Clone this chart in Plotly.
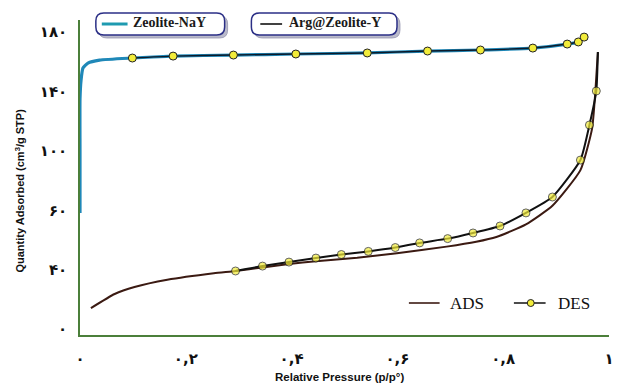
import plotly.graph_objects as go

# ---------------- data ----------------
# Zeolite-NaY (top curve) adsorption branch
nay_ads_x = [0.0, 0.0, 0.0, 0.002, 0.0056, 0.015, 0.037, 0.099, 0.176, 0.290, 0.408,
             0.543, 0.657, 0.757, 0.856, 0.921, 0.942, 0.953]
nay_ads_y = [58.1, 100.5, 135.0, 147.7, 155.8, 159.1, 161.1, 162.5, 163.8, 164.5, 165.2,
             165.9, 167.2, 167.9, 169.2, 171.9, 173.3, 176.6]
# Zeolite-NaY desorption branch (markers)
nay_des_x = [0.099, 0.176, 0.290, 0.408, 0.543, 0.657, 0.757, 0.856, 0.921, 0.942, 0.953]
nay_des_y = [162.5, 163.8, 164.5, 165.2, 165.9, 167.2, 167.9, 169.2, 171.9, 173.3, 176.6]

# Arg@Zeolite-Y (bottom curve) adsorption branch
arg_ads_x = [0.0206, 0.0655, 0.103, 0.165, 0.253, 0.294, 0.345, 0.395, 0.446, 0.524,
             0.599, 0.693, 0.749, 0.787, 0.843, 0.893, 0.946, 0.968, 0.974, 0.979]
arg_ads_y = [-5.9, 3.6, 8.3, 13.2, 17.6, 19.1, 21.5, 23.8, 25.7, 28.0,
             31.0, 35.5, 38.8, 42.0, 50.5, 63.0, 87.0, 115.0, 138.9, 166.5]
# Arg@Zeolite-Y desorption branch
arg_des_x = [0.294, 0.345, 0.395, 0.446, 0.494, 0.545, 0.596, 0.642, 0.695, 0.743,
             0.794, 0.843, 0.893, 0.946, 0.963, 0.976, 0.979]
arg_des_y = [19.1, 22.4, 25.1, 27.8, 30.2, 32.3, 34.9, 38.0, 40.9, 44.7,
             49.4, 58.2, 68.9, 93.8, 117.4, 140.3, 166.5]
arg_des_marker = [True] * 16 + [False]

# axis ticks
x_tickvals = [0, 0.2, 0.4, 0.6, 0.8, 1.0]
x_ticktext = ["۰", "۰,۲", "۰,۴", "۰,۶", "۰,۸", "۱"]
y_tickvals = [-20, 20, 60, 100, 140, 180]
y_ticktext = ["۰", "۴۰", "۶۰", "۱۰۰", "۱۴۰", "۱۸۰"]

legend_top = ["Zeolite-NaY", "Arg@Zeolite-Y"]
legend_bottom = ["ADS", "DES"]

# ---------------- layout geometry ----------------
W, H = 622, 385
ML, MR, MT, MB = 80, 8, 20, 50
PW, PH = W - ML - MR, H - MT - MB


def px(x):
    return (x - ML) / PW


def py(y):
    return (H - MB - y) / PH


BLUE = "#1f88b8"
YELLOW = "#f2ec3a"

fig = go.Figure()

fig.add_trace(go.Scatter(x=nay_ads_x, y=nay_ads_y, mode="lines",
                         line=dict(color=BLUE, width=3.2, shape="spline", smoothing=0.5),
                         showlegend=False, hoverinfo="skip"))
fig.add_trace(go.Scatter(x=nay_des_x, y=nay_des_y, mode="lines+markers",
                         line=dict(color="#0d1a2a", width=1.4, shape="spline", smoothing=0.5),
                         marker=dict(color=YELLOW, size=8, line=dict(color="#222222", width=1)),
                         showlegend=False, hoverinfo="skip"))
fig.add_trace(go.Scatter(x=arg_ads_x, y=arg_ads_y, mode="lines",
                         line=dict(color="#3b1a12", width=2, shape="spline", smoothing=0.5),
                         showlegend=False, hoverinfo="skip"))
fig.add_trace(go.Scatter(x=arg_des_x, y=arg_des_y, mode="lines+markers",
                         line=dict(color="#111111", width=2, shape="spline", smoothing=0.5),
                         marker=dict(color=YELLOW, size=[8 if m else 0 for m in arg_des_marker],
                                     line=dict(color="#222222",
                                               width=[1 if m else 0 for m in arg_des_marker])),
                         showlegend=False, hoverinfo="skip"))

shapes = []
annotations = []


def rounded_box(x0, y0, x1, y1, r, color, fill, width):
    # coordinates in pixels -> paper path
    def P(x, y):
        return f"{px(x):.5f},{py(y):.5f}"
    path = (f"M {P(x0 + r, y0)} L {P(x1 - r, y0)} Q {P(x1, y0)} {P(x1, y0 + r)} "
            f"L {P(x1, y1 - r)} Q {P(x1, y1)} {P(x1 - r, y1)} "
            f"L {P(x0 + r, y1)} Q {P(x0, y1)} {P(x0, y1 - r)} "
            f"L {P(x0, y0 + r)} Q {P(x0, y0)} {P(x0 + r, y0)} Z")
    return dict(type="path", xref="paper", yref="paper", path=path,
                line=dict(color=color, width=width), fillcolor=fill, layer="above")


# top legend boxes (shadow + box)
boxes = [(96, 13, 226, 35), (253, 13, 400, 35)]
for (x0, y0, x1, y1) in boxes:
    shapes.append(rounded_box(x0 + 3, y0 + 3, x1 + 3, y1 + 3, 8, "rgba(150,150,175,0.8)",
                              "rgba(170,170,190,0.8)", 1))
    shapes.append(rounded_box(x0, y0, x1, y1, 8, "#2b2f86", "white", 1.5))

# line samples in top legend
shapes.append(dict(type="line", xref="paper", yref="paper", x0=px(102), x1=px(128),
                   y0=py(24), y1=py(24), line=dict(color="#1e9ab0", width=3)))
shapes.append(dict(type="line", xref="paper", yref="paper", x0=px(262), x1=px(284),
                   y0=py(24), y1=py(24), line=dict(color="#111111", width=1.6)))
annotations.append(dict(x=px(131), y=py(23), xref="paper", yref="paper",
                        text="<b>" + legend_top[0] + "</b>",
                        showarrow=False, xanchor="left", yanchor="middle",
                        font=dict(family="Liberation Serif", size=14, color="#1a1a1a")))
annotations.append(dict(x=px(289), y=py(23), xref="paper", yref="paper",
                        text="<b>" + legend_top[1] + "</b>",
                        showarrow=False, xanchor="left", yanchor="middle",
                        font=dict(family="Liberation Serif", size=14, color="#1a1a1a")))

# bottom legend ADS / DES
shapes.append(dict(type="line", xref="paper", yref="paper", x0=px(412), x1=px(443),
                   y0=py(303), y1=py(303), line=dict(color="#3b1a12", width=1.6)))
shapes.append(dict(type="line", xref="paper", yref="paper", x0=px(518), x1=px(550),
                   y0=py(303), y1=py(303), line=dict(color="#111111", width=1.6)))
shapes.append(dict(type="circle", xref="paper", yref="paper", x0=px(531.5), x1=px(538.5),
                   y0=py(306.5), y1=py(299.5), fillcolor=YELLOW,
                   line=dict(color="#222222", width=1), layer="above"))
annotations.append(dict(x=px(451), y=py(303), xref="paper", yref="paper", text=legend_bottom[0],
                        showarrow=False, xanchor="left", yanchor="middle",
                        font=dict(family="Liberation Serif", size=17, color="#111111")))
annotations.append(dict(x=px(561), y=py(303), xref="paper", yref="paper", text=legend_bottom[1],
                        showarrow=False, xanchor="left", yanchor="middle",
                        font=dict(family="Liberation Serif", size=17, color="#111111")))

# axis titles
annotations.append(dict(x=px(19), y=py(191), xref="paper", yref="paper",
                        text="<b>Quantity Adsorbed (cm<sup>3</sup>/g STP)</b>", textangle=-90,
                        showarrow=False, xanchor="center", yanchor="middle",
                        font=dict(family="Liberation Sans Narrow, Liberation Sans", size=11,
                                  color="#111111")))
annotations.append(dict(x=px(342), y=py(377), xref="paper", yref="paper",
                        text="<b>Relative Pressure (p/p°)</b>",
                        showarrow=False, xanchor="center", yanchor="middle",
                        font=dict(family="Liberation Sans", size=11.5, color="#111111")))

fig.update_layout(
    width=W, height=H,
    margin=dict(l=ML, r=MR, t=MT, b=MB, pad=0),
    plot_bgcolor="white", paper_bgcolor="white",
    shapes=shapes, annotations=annotations,
    xaxis=dict(range=[0, 1.0], tickvals=x_tickvals, ticktext=x_ticktext,
               showgrid=False, zeroline=False, showline=True, linecolor="#4b7f3a",
               linewidth=1.5, ticks="", ticklabelstandoff=9,
               tickfont=dict(family="DejaVu Sans", size=15, color="#111111", weight="bold")),
    yaxis=dict(range=[-24.0, 188.1], tickvals=y_tickvals, ticktext=y_ticktext,
               showgrid=False, zeroline=False, showline=True, linecolor="#4b7f3a",
               linewidth=1.5, ticks="", ticklabelstandoff=8,
               tickfont=dict(family="DejaVu Sans", size=15, color="#111111", weight="bold")),
)

fig.write_html("out.html")
